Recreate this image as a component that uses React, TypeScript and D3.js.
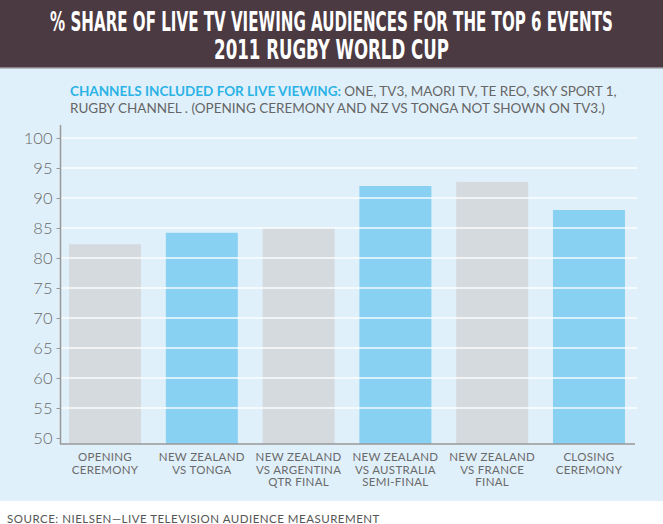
import { useEffect, useRef } from "react";
import * as d3 from "d3";

// 項目
const events = [
  ["OPENING", "CEREMONY"],
  ["NEW ZEALAND", "VS TONGA"],
  ["NEW ZEALAND", "VS ARGENTINA", "QTR FINAL"],
  ["NEW ZEALAND", "VS AUSTRALIA", "SEMI-FINAL"],
  ["NEW ZEALAND", "VS FRANCE", "FINAL"],
  ["CLOSING", "CEREMONY"],
];
const shares = [82.3, 84.2, 85.0, 92.0, 92.7, 88.0];
const yTicks = [50, 55, 60, 65, 70, 75, 80, 85, 90, 95, 100];
const titleLines = [
  "% SHARE OF LIVE TV VIEWING AUDIENCES FOR THE TOP 6 EVENTS",
  "2011 RUGBY WORLD CUP",
];

const W = 663;
const H = 524;
const GRAY = "#d5dadf";
const BLUE = "#88d1f3";

const App = () => {
  const svgRef = useRef<SVGSVGElement | null>(null);

  useEffect(() => {
    if (!svgRef.current) return;
    const svg = d3.select(svgRef.current);
    svg.selectAll("*").remove();

    // 背景
    svg.append("rect").attr("width", W).attr("height", H).attr("fill", "#fff");
    svg
      .append("rect")
      .attr("y", 68)
      .attr("width", W)
      .attr("height", 433)
      .attr("fill", "#e0f0fb");
    svg.append("rect").attr("width", W).attr("height", 68).attr("fill", "#4b3a41");
    svg.append("rect").attr("y", 67).attr("width", W).attr("height", 1.5).attr("fill", "#8a8488");

    // 標題 (窄字體再水平壓縮)
    const titleWidths = [563, 235];
    svg
      .selectAll("text.title")
      .data(titleLines)
      .join("text")
      .attr("class", "title")
      .attr("text-anchor", "middle")
      .attr("font-family", "'Liberation Sans Narrow', 'DejaVu Sans Condensed', sans-serif")
      .attr("font-weight", "bold")
      .attr("font-size", 26)
      .attr("fill", "#fff")
      .text((d) => d)
      .each(function (_, i) {
        const len = (this as SVGTextElement).getComputedTextLength() || titleWidths[i];
        const sx = titleWidths[i] / len;
        d3.select(this).attr("transform", `translate(${W / 2},${31 + i * 28}) scale(${sx},1)`);
      });

    // 副標題
    const sub = svg
      .append("text")
      .attr("font-family", "Lato, 'Open Sans', sans-serif")
      .attr("font-size", 13.5)
      .attr("fill", "#666");
    const l1 = sub.append("tspan").attr("x", 70).attr("y", 96);
    l1.append("tspan")
      .attr("fill", "#2bb3e6")
      .attr("font-weight", "bold")
      .text("CHANNELS INCLUDED FOR LIVE VIEWING: ");
    l1.append("tspan").text("ONE, TV3, MAORI TV, TE REO, SKY SPORT 1,");
    sub
      .append("tspan")
      .attr("x", 70)
      .attr("y", 113)
      .text("RUGBY CHANNEL . (OPENING CEREMONY AND NZ VS TONGA NOT SHOWN ON TV3.)");

    // 比例尺
    const y = d3.scaleLinear().domain([50, 100]).range([438, 138]);
    const x = d3
      .scaleBand<number>()
      .domain(d3.range(events.length))
      .range([61, 633])
      .paddingInner(0.256)
      .paddingOuter(0.083);
    const baseY = y(49);

    // 長條
    svg
      .append("g")
      .selectAll("rect")
      .data(shares)
      .join("rect")
      .attr("x", (_, i) => x(i)!)
      .attr("width", x.bandwidth())
      .attr("y", (d) => y(d))
      .attr("height", (d) => baseY - y(d))
      .attr("fill", (_, i) => (i % 2 === 0 ? GRAY : BLUE));

    // 格線
    svg
      .append("g")
      .selectAll("line")
      .data(yTicks.slice(1))
      .join("line")
      .attr("x1", 61)
      .attr("x2", 637)
      .attr("y1", (d) => y(d))
      .attr("y2", (d) => y(d))
      .attr("stroke", "#fff")
      .attr("stroke-opacity", 0.9)
      .attr("stroke-width", 1.3);

    // y軸
    const yAxis = svg
      .append("g")
      .attr("transform", "translate(60.5,0)")
      .call(d3.axisLeft(y).tickValues(yTicks).tickSize(4).tickPadding(4));
    yAxis.select(".domain").remove();
    yAxis.selectAll("line").attr("stroke", "#999");
    yAxis
      .selectAll("text")
      .attr("font-family", "Lato, 'Open Sans', sans-serif")
      .attr("font-weight", 300)
      .attr("font-size", 16.5)
      .attr("fill", "#6a6a6a");
    svg
      .append("line")
      .attr("x1", 60.5)
      .attr("x2", 60.5)
      .attr("y1", 125)
      .attr("y2", baseY)
      .attr("stroke", "#999")
      .attr("stroke-width", 1.5);
    svg
      .append("line")
      .attr("x1", 60)
      .attr("x2", 635)
      .attr("y1", baseY)
      .attr("y2", baseY)
      .attr("stroke", "#999")
      .attr("stroke-width", 1.5);

    // x軸標籤
    svg
      .append("g")
      .selectAll("text")
      .data(events)
      .join("text")
      .attr("text-anchor", "middle")
      .attr("font-family", "Lato, 'Open Sans', sans-serif")
      .attr("font-size", 11.5)
      .attr("letter-spacing", 0.3)
      .attr("fill", "#6a6a6a")
      .each(function (d, i) {
        d3.select(this)
          .selectAll("tspan")
          .data(d)
          .join("tspan")
          .attr("x", x(i)! + x.bandwidth() / 2)
          .attr("y", (_, j) => 461 + j * 12.7)
          .text((t) => t);
      });

    // 資料來源
    svg
      .append("text")
      .attr("x", 7)
      .attr("y", 523)
      .attr("font-family", "Lato, 'Open Sans', sans-serif")
      .attr("font-size", 11.5)
      .attr("letter-spacing", 0.5)
      .attr("fill", "#555")
      .text("SOURCE: NIELSEN—LIVE TELEVISION AUDIENCE MEASUREMENT");
  }, []);

  return (
    <>
      <style>{`body{margin:0}`}</style>
      <svg ref={svgRef} width={W} height={H} style={{ display: "block" }}></svg>
    </>
  );
};

export default App;
